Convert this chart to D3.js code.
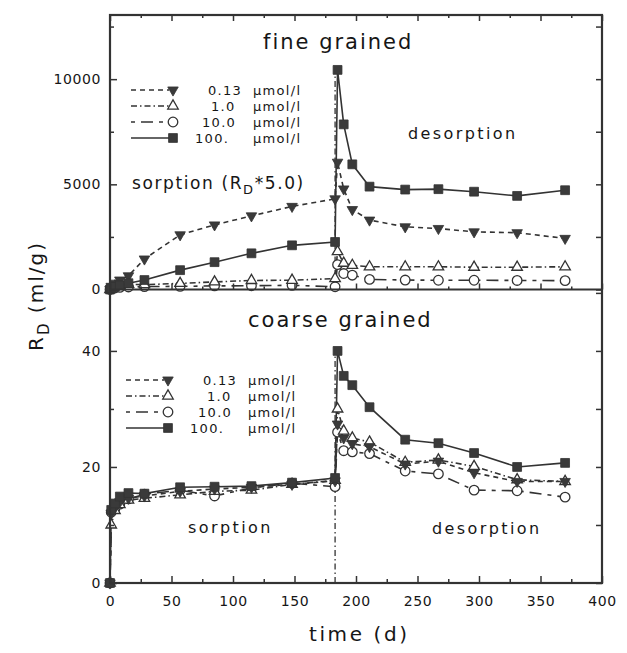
<!DOCTYPE html>
<html>
<head>
<meta charset="utf-8">
<script src="https://cdn.jsdelivr.net/npm/d3@7"></script>
<style>
  body { margin: 0; background: #fff; }
  text { font-family: "DejaVu Sans", sans-serif; fill: #161616; }
</style>
</head>
<body>
<div id="chart"></div>
<script>
// sampling times (d): sorption phase, then desorption phase
var tSorption = [0, 1, 4, 8, 15, 28, 57, 85, 115, 148, 183];
var tDesorption = [185, 190, 197, 211, 240, 267, 296, 331, 370];

// fine grained R_D (ml/g), sorption values already *5.0 ; first 11 = sorption, last 9 = desorption
var fine013 = [0, 150, 300, 450, 650, 1450, 2600, 3070, 3500, 3950, 4310,
               6050, 4780, 3800, 3300, 2980, 2900, 2740, 2700, 2430];
var fine1 = [0, 80, 150, 200, 250, 230, 290, 360, 430, 440, 520,
             1800, 1250, 1150, 1080, 1080, 1080, 1060, 1060, 1080];
var fine10 = [0, 50, 80, 100, 120, 140, 150, 170, 180, 200, 130,
              1180, 760, 680, 480, 450, 440, 440, 430, 420];
var fine100 = [0, 60, 130, 200, 300, 450, 920, 1300, 1720, 2100, 2260,
               10440, 7850, 5950, 4890, 4750, 4770, 4650, 4450, 4720];

// coarse grained R_D (ml/g)
var coarse013 = [0, 12.0, 13.0, 14.0, 14.6, 15.0, 15.8, 16.2, 16.5, 17.0, 17.6,
                 27.4, 25.0, 24.0, 23.5, 20.5, 21.0, 19.0, 17.5, 17.5];
var coarse1 = [0, 10.0, 12.5, 13.5, 14.3, 14.6, 15.2, 15.8, 16.0, 17.0, 17.7,
               30.0, 26.2, 25.0, 24.3, 20.8, 21.2, 20.1, 17.8, 17.5];
var coarse10 = [0, 12.2, 12.8, 13.6, 14.5, 15.3, 16.0, 15.0, 16.4, 17.2, 16.6,
                26.0, 22.8, 22.6, 22.3, 19.3, 18.8, 16.0, 15.9, 14.8];
var coarse100 = [0, 12.6, 13.7, 14.9, 15.5, 15.4, 16.5, 16.6, 16.7, 17.3, 18.1,
                 40.0, 35.7, 34.1, 30.3, 24.7, 24.1, 22.4, 20.0, 20.7];

var concLabels = ["0.13", "1.0", "10.0", "100."];
var xTicks = [0, 50, 100, 150, 200, 250, 300, 350, 400];
var xMinor = [25, 75, 125, 175, 225, 275, 325, 375];
var fineTicks = [0, 5000, 10000];
var fineMinor = [2500, 7500, 12500];
var coarseTicks = [0, 20, 40];
var coarseMinor = [10, 30, 50];
var tSwitch = 183;

var vInk = "#333";
var vTimes = tSorption.concat(tDesorption);

// series styles: dash pattern + marker
var vStyles = [
    { dash: "5,4", symbol: "down", filled: true },
    { dash: "6,3,1.5,3", symbol: "up", filled: false },
    { dash: "4,6,12,6", symbol: "circle", filled: false },
    { dash: null, symbol: "square", filled: true }
];

var svg = d3.select("#chart").append("svg")
    .attr("width", 627)
    .attr("height", 653);

var x = d3.scaleLinear().domain([0, 400]).range([110, 602]);
var yFine = d3.scaleLinear().domain([0, 13050]).range([289.5, 15]);
var yCoarse = d3.scaleLinear().domain([0, 50.5]).range([583, 290]);

function markerPath(aSym) {
    if (aSym == "square") return d3.symbol(d3.symbolSquare, 78)();
    if (aSym == "circle") return d3.symbol(d3.symbolCircle, 72)();
    return d3.symbol(d3.symbolTriangle, 48)();
}

function addMarker(aG, aX, aY, aStyle) {
    aG.append("path")
        .attr("d", markerPath(aStyle.symbol))
        .attr("transform", "translate(" + aX + "," + aY + ")" + (aStyle.symbol == "down" ? " rotate(180)" : ""))
        .attr("fill", aStyle.filled ? "#3a3a3a" : "#fff")
        .attr("stroke", vInk)
        .attr("stroke-width", aStyle.filled ? 0.8 : 1.3);
}

function drawPanel(aY, aSeries, aTicks, aMinor, aLegend) {
    var g = svg.append("g");

    // switch line sorption -> desorption
    var vMax = d3.max(aSeries, function (s) { return d3.max(s); });
    g.append("line")
        .attr("x1", x(tSwitch)).attr("x2", x(tSwitch))
        .attr("y1", aY(0)).attr("y2", aY(vMax))
        .attr("stroke", vInk).attr("stroke-width", 1.3)
        .attr("stroke-dasharray", "6,3,1.5,3");

    var vLine = d3.line()
        .x(function (d, i) { return x(vTimes[i]); })
        .y(function (d) { return aY(d); });

    // draw 10.0, 1.0, 0.13 then 100.
    [2, 1, 0, 3].forEach(function (k) {
        g.append("path")
            .attr("d", vLine(aSeries[k]))
            .attr("fill", "none")
            .attr("stroke", vInk)
            .attr("stroke-width", 1.6)
            .attr("stroke-dasharray", vStyles[k].dash);
    });
    [2, 1, 0, 3].forEach(function (k) {
        aSeries[k].forEach(function (d, i) {
            addMarker(g, x(vTimes[i]), aY(d), vStyles[k]);
        });
    });

    // left / right axes, ticks pointing inward
    var vLeft = g.append("g").attr("transform", "translate(110,0)")
        .call(d3.axisLeft(aY).tickValues(aTicks).tickSize(-7).tickPadding(9).tickFormat(d3.format("d")));
    vLeft.selectAll("text").style("font-size", "14px").style("letter-spacing", "0.6px");
    g.append("g").attr("transform", "translate(110,0)")
        .call(d3.axisLeft(aY).tickValues(aMinor).tickSize(-4).tickFormat(""));
    g.append("g").attr("transform", "translate(602,0)")
        .call(d3.axisRight(aY).tickValues(aTicks.concat(aMinor)).tickSize(-6).tickFormat(""));
    g.selectAll(".domain").remove();
    g.selectAll(".tick line").attr("stroke", vInk).attr("stroke-width", 1.5);

    // legend
    var vLeg = g.append("g");
    aLegend.rows.forEach(function (vRowY, k) {
        vLeg.append("line")
            .attr("x1", aLegend.x0).attr("x2", aLegend.x0 + 38)
            .attr("y1", vRowY).attr("y2", vRowY)
            .attr("stroke", vInk).attr("stroke-width", 1.6)
            .attr("stroke-dasharray", vStyles[k].dash);
        addMarker(vLeg, aLegend.x0 + 42, vRowY, vStyles[k]);
        vLeg.append("text")
            .attr("x", aLegend.numX[k]).attr("y", vRowY + 5)
            .style("font-size", "13px").style("letter-spacing", "1.3px")
            .text(concLabels[k]);
        vLeg.append("text")
            .attr("x", aLegend.unitX).attr("y", vRowY + 5)
            .style("font-size", "13px").style("letter-spacing", "1.3px")
            .text("\u03bcmol/l");
    });
    return g;
}

drawPanel(yFine, [fine013, fine1, fine10, fine100], fineTicks, fineMinor,
    { x0: 131, rows: [90, 106, 122, 138], numX: [208, 211, 202, 195], unitX: 253 });
drawPanel(yCoarse, [coarse013, coarse1, coarse10, coarse100], coarseTicks, coarseMinor,
    { x0: 126, rows: [380, 396, 412, 428], numX: [203, 207, 198, 190], unitX: 248 });

// x axes: bottom with labels, top and middle divider ticks only
var vAxes = svg.append("g");
var vBottom = vAxes.append("g").attr("transform", "translate(0,583)")
    .call(d3.axisBottom(x).tickValues(xTicks).tickSize(-7).tickPadding(13));
vBottom.selectAll("text").style("font-size", "14px").style("letter-spacing", "0.6px");
vAxes.append("g").attr("transform", "translate(0,583)")
    .call(d3.axisBottom(x).tickValues(xMinor).tickSize(-4).tickFormat(""));
vAxes.append("g").attr("transform", "translate(0,15)")
    .call(d3.axisTop(x).tickValues(xTicks).tickSize(-6).tickFormat(""));
vAxes.append("g").attr("transform", "translate(0,15)")
    .call(d3.axisTop(x).tickValues(xMinor).tickSize(-3).tickFormat(""));
vAxes.append("g").attr("transform", "translate(0,289.5)")
    .call(d3.axisBottom(x).tickValues(xTicks).tickSize(-6).tickFormat(""));
vAxes.append("g").attr("transform", "translate(0,289.5)")
    .call(d3.axisBottom(x).tickValues(xMinor).tickSize(-3).tickFormat(""));
vAxes.selectAll(".domain").remove();
vAxes.selectAll(".tick line").attr("stroke", vInk).attr("stroke-width", 1.5);

// frame and panel divider
svg.append("rect")
    .attr("x", 110).attr("y", 15).attr("width", 492).attr("height", 568)
    .attr("fill", "none").attr("stroke", vInk).attr("stroke-width", 2.2);
svg.append("line")
    .attr("x1", 110).attr("x2", 602).attr("y1", 289.5).attr("y2", 289.5)
    .attr("stroke", vInk).attr("stroke-width", 2.2);

// panel annotations
function label(aX, aY, aSize, aSpacing, aText) {
    return svg.append("text").attr("x", aX).attr("y", aY)
        .style("font-size", aSize + "px").style("letter-spacing", aSpacing + "px")
        .text(aText);
}
label(263, 49, 21, 2, "fine grained");
label(408, 139, 16, 2.4, "desorption");
var vSorp = label(132, 189, 17, 1.6, "sorption (R");
vSorp.append("tspan").attr("dy", 5).style("font-size", "13px").text("D");
vSorp.append("tspan").attr("dy", -5).text("*5.0)");

label(248, 327, 21, 2, "coarse grained");
label(188, 533, 16, 2.4, "sorption");
label(432, 534, 16, 2.4, "desorption");

// axis titles
label(309, 641, 20, 2.6, "time (d)");
var vYTitle = svg.append("text")
    .attr("transform", "translate(43,296) rotate(-90)")
    .attr("text-anchor", "middle")
    .style("font-size", "20px").style("letter-spacing", "2px");
vYTitle.append("tspan").text("R");
vYTitle.append("tspan").attr("dy", 6).style("font-size", "15px").text("D");
vYTitle.append("tspan").attr("dy", -6).text(" (ml/g)");
</script>
</body>
</html>
